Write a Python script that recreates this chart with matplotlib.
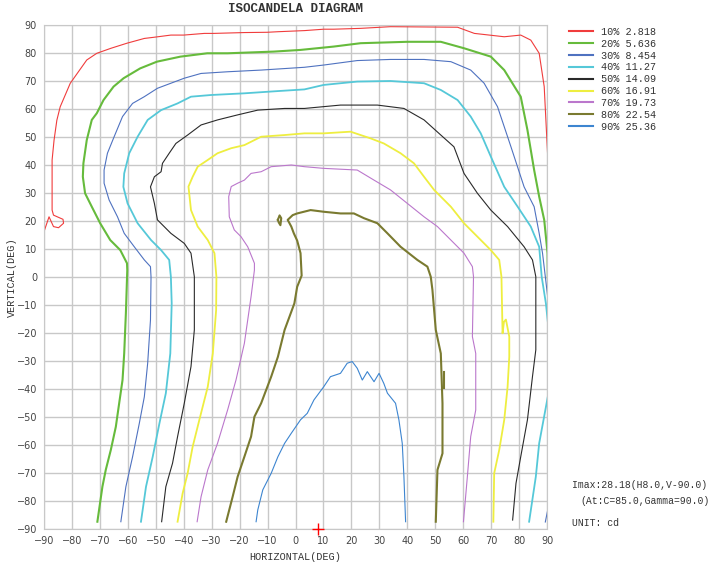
import matplotlib
matplotlib.use('Agg')
import matplotlib.pyplot as plt

# contour levels (percent of Imax, cd)
levels = ['10%', '20%', '30%', '40%', '50%', '60%', '70%', '80%', '90%']
level_cd = ['2.818', '5.636', '8.454', '11.27', '14.09', '16.91', '19.73', '22.54', '25.36']
colors = ['#f03c3c', '#66bb3c', '#4f72c0', '#55c8d8', '#2a2a2a', '#eeee40', '#bb77cc', '#7a7a30', '#3d85d0']
widths = [0.8, 1.5, 0.8, 1.3, 0.8, 1.3, 0.8, 1.5, 0.8]

# 10%
h10 = [-90, -88.2, -86.6, -84.8, -83, -83.2, -84.8, -86.6, -87.1, -87.1, -86.4, -85.4, -84.2, -80.6,
       -74.7, -71.1, -66, -60.3, -54.1, -50.8, -44.6, -40, -32.6, -29.3, -18.3, -10.1, -6.3, 3.2, 10.1,
       13.7, 23.3, 34, 58, 64, 74.7, 80.6, 84.2, 87.2, 89, 90.2, 90.5]
v10 = [16.2, 21.5, 18, 17.6, 19.2, 20.6, 21.3, 22.1, 23.9, 41.8, 48.9, 56, 60.8, 69.2,
       77.5, 79.9, 81.7, 83.5, 85.2, 85.6, 86.4, 86.4, 87, 87, 87.3, 87.4, 87.6, 88, 88.5,
       88.5, 88.8, 89.4, 89.2, 87, 85.8, 86.4, 84.6, 79.9, 68, 44.2, 27]

# 20%
h20 = [-70.9, -69.1, -67.9, -66.1, -64.3, -63.1, -61.9, -61.3, -60.7, -60.2, -60.3, -62.7, -66.3,
       -69.9, -72.9, -75.3, -76.1, -75.9, -74.7, -72.9, -71.1, -68.7, -65.1, -61.5, -55.6, -49.6,
       -41.2, -31.6, -24.3, -7.8, 1.8, 13.7, 23.3, 40, 52, 60.3, 69.9, 74.7, 80.6, 83, 85.4, 87.2,
       89, 90.2, 90.3]
v20 = [-87.4, -74.9, -68.9, -61.8, -53.5, -45.1, -36.8, -27.3, -13, 2.5, 4.9, 9.6, 13.2,
       19.2, 25.1, 29.9, 35.8, 40.6, 48.9, 56.1, 58.5, 63.2, 68, 71, 74.5, 76.9,
       78.7, 79.9, 79.9, 80.5, 81.1, 82.3, 83.5, 84, 84, 81.7, 78.7, 73.9, 64.4, 52.5, 38.2, 28.7,
       20.4, 8.5, -0.5]

# 30%
h30 = [-62.5, -60.7, -58.3, -55.9, -54.1, -52.9, -51.9, -51.7, -51.9, -54.1, -57.7, -61.3, -63.7,
       -66.7, -68.5, -68.5, -67.3, -64.9, -61.9, -58.3, -54.1, -49.4, -44.6, -39.8, -33.8, -24.3,
       -12.3, 3.2, 10.1, 22.1, 34, 46, 55.6, 62.7, 67.5, 72.3, 77.1, 81.8, 85.4, 87.2, 88.4, 90.3]
v30 = [-87.4, -74.9, -64.2, -52.3, -42.8, -30.8, -15.4, 0, 3.7, 6.1, 10.8, 15.6, 21.5,
       27.5, 33.5, 38.2, 44.2, 50.1, 57.3, 62, 64.4, 67.4, 69.2, 71, 72.7, 73.3,
       73.9, 74.9, 75.7, 77.3, 77.7, 77.7, 76.9, 73.9, 69.2, 60.8, 46.5, 32.2, 25.1, 15.6, 8.5, -7.5]
h30b = [90.3, 89.4]
v30b = [-83, -87.5]

# 40%
h40 = [-55.3, -53.5, -51.1, -48.7, -46.4, -44.8, -44.3, -44.6, -45.2, -48.1, -51.7, -56.5, -60.1,
       -61.6, -61.3, -59.5, -56.5, -52.9, -48.1, -42.2, -37.4, -30.2, -18.3, -6.3, 3.2, 10.1, 22.1,
       34, 46, 52, 58, 62.7, 66.3, 69.9, 74.7, 79.5, 84.2, 87.2, 88.1, 89.6, 90.3]
v40 = [-87.4, -74.9, -64.2, -52.3, -41.5, -27.3, -9.4, 0.1, 6.1, 9.6, 13.2, 19.2, 26.3,
       32.2, 37, 44.2, 50.1, 56.1, 59.6, 62, 64.4, 65, 65.6, 66.4, 67, 68.6, 69.8,
       70, 69.2, 66.8, 63.2, 57.3, 51.3, 43, 32.2, 25.1, 18, 10.8, 0.1, -9.4, -16]
h40b = [90.3, 87.2, 86, 83.6]
v40b = [-42.7, -59.4, -71.3, -87.4]

# 50%
h50 = [-47.9, -46.4, -44, -42.2, -39.8, -37.4, -36.2, -36.2, -37.4, -39.8, -44.6, -49.4, -50.5,
       -51.9, -50.5, -48.1, -47.6, -45.2, -42.8, -38.6, -33.8, -27.9, -20.7, -13.5, -3.9, 3.2, 16.1,
       29.3, 38.8, 46, 52, 56.7, 60.3, 65.1, 69.9, 75.9, 81.8, 84.8, 86, 86, 84.8, 83, 80.6, 78.9, 77.7]
v50 = [-87.4, -74.9, -66.5, -57, -45.1, -32, -18.9, 0.1, 8.5, 12, 15.6, 20.4, 26.3,
       32.2, 35.8, 37.6, 40.6, 44.2, 47.7, 50.7, 54.3, 56.1, 57.9, 59.6, 60.2, 60.2, 61.4,
       61.4, 60.2, 56.1, 50.7, 46.5, 37, 29.9, 23.9, 18, 10.8, 6.1, 0.1, -26, -35.6, -51, -64.2, -73.7, -86.8]

# 60%
h60 = [-42.2, -40.4, -38.6, -36.8, -34.4, -31.4, -29.6, -28.4, -28.3, -29, -31.4, -35, -37.4, -38.3,
       -36.8, -35, -31.4, -27.9, -23, -18.3, -12.3, -3.9, 3.2, 10.1, 19.7, 26.9, 31.6, 37.6, 42.4, 46,
       49.6, 55.6, 60.3, 65.1, 69.9, 72.9, 73.7, 74.1, 74.6, 75.3, 76.5, 76.5, 75.9, 74.7, 72.9, 71.1, 70.8]
v60 = [-87.4, -77.3, -70.1, -60.6, -51, -39.2, -27.3, -11.8, 0, 8.5, 13.2, 18, 23.9, 32.3,
       35.8, 39.4, 41.8, 44.2, 46, 47.1, 50.1, 50.7, 51.3, 51.3, 51.9, 49.5, 47.7, 44.2, 40.6, 35.8,
       31.1, 25.1, 19.2, 14.4, 9.6, 6.1, 0.1, -20.1, -16, -15.2, -21.3, -28.5, -39.2, -51, -61.8, -70.1, -87.4]

# 70%
h70 = [-35.2, -33.8, -31.4, -27.9, -24.3, -21.3, -18.3, -15.9, -14.7, -14.7, -17.1, -19.5, -21.9,
       -23.7, -23.9, -23, -20.7, -18.3, -15.9, -12.3, -8.7, -1.5, 3.2, 10.1, 22.1, 28.1, 34, 40, 46,
       50.8, 55.6, 60.3, 63.3, 63.7, 63.3, 64.5, 64.5, 62.7, 61.5, 60.1]
v70 = [-87.4, -78.5, -68.9, -59.4, -47.5, -36.8, -23.7, -7, 2.5, 4.9, 10.8, 14.4, 16.8,
       21.5, 28.7, 32.3, 33.5, 34.6, 37, 37.6, 39.4, 40, 39.4, 38.8, 38.2, 34.6, 31.1, 26.3, 21.5,
       18, 13.2, 8.5, 3.7, 0.1, -21.3, -27.3, -47.5, -57, -71.3, -87.4]

# 80%
h80 = [-24.8, -22.5, -20.7, -18.3, -15.9, -14.7, -12.3, -8.7, -6.3, -3.9, -1.5, -0.4, 0.6, 2.2,
       1.8, 0.6, -0.6, -1.5, -2.8, -1, 0.6, 3, 5.4, 10.1, 16.1, 20.9, 24.5, 29.3, 32.9, 37.6, 43.6,
       47.2, 48.4, 49, 50.2, 52, 52.6, 52.6, 50.8, 50.2]
v80 = [-87.4, -78.5, -71.3, -64.2, -57, -49.9, -45.1, -35.6, -28.5, -18.9, -12.4, -9.4, -3.5, 0.5,
       8.5, 13, 15.6, 18, 20.4, 22.1, 22.7, 23.3, 23.9, 23.3, 22.7, 22.7, 21, 19.2, 15.6, 10.8, 6.1,
       3.7, 0.1, -4.6, -18.9, -27.3, -45.1, -63, -68.9, -87.4]
h80b = [-6.3, -5.7, -5.1, -5.4, -6.0, -6.3]
v80b = [20.4, 22.0, 21.0, 18.5, 19.5, 20.4]
h80c = [53.2, 53.2]
v80c = [-34, -39.7]

# 90%
h90 = [-14.1, -13.5, -11.7, -8.7, -6.3, -3.9, -1.5, 1.8, 4.2, 6.6, 10.1, 12.5, 16.1, 18.5, 20.3,
       22.1, 23.9, 25.7, 28.1, 29.9, 31.6, 32.9, 35.8, 37, 38.2, 38.8, 39.4]
v90 = [-87.4, -83.2, -76, -70.1, -64.2, -59.4, -55.8, -51, -48.7, -43.9, -39.2, -35.6, -34.4, -30.8,
       -30.2, -32.6, -36.8, -33.8, -37.4, -34.4, -38, -41.5, -45.1, -51, -59.4, -71.3, -87.4]

contours = [
    [(h10, v10)],
    [(h20, v20)],
    [(h30, v30), (h30b, v30b)],
    [(h40, v40), (h40b, v40b)],
    [(h50, v50)],
    [(h60, v60)],
    [(h70, v70)],
    [(h80, v80), (h80b, v80b), (h80c, v80c)],
    [(h90, v90)],
]

imax = 28.18
imax_h, imax_v = 8.0, -90.0
at_c, at_gamma = 85.0, 90.0

mono = 'Liberation Mono'
txt_col = '#333333'

fig = plt.figure(figsize=(7.13, 5.67), dpi=100)
ax = fig.add_axes([44 / 713, 1 - 529 / 567, 503 / 713, 504 / 567])

for i, pieces in enumerate(contours):
    for k, (hh, vv) in enumerate(pieces):
        ax.plot(hh, vv, color=colors[i], lw=widths[i],
                label=f'{levels[i]} {level_cd[i]}' if k == 0 else None)

ax.plot(imax_h, imax_v, '+', color='red', ms=9, mew=1.0, clip_on=False, zorder=5)

ax.set_xlim(-90, 90)
ax.set_ylim(-90, 90)
ax.set_xticks(range(-90, 91, 10))
ax.set_yticks(range(-90, 91, 10))
ax.grid(True, color='#c8c8c8', lw=1.0)
ax.set_axisbelow(True)
ax.tick_params(length=0, labelsize=7, labelcolor='#444444', pad=5)
for s in ax.spines.values():
    s.set_color('#c8c8c8')

fig.text(295 / 713, 1 - 9 / 567, 'ISOCANDELA DIAGRAM', ha='center', va='center',
         family=mono, weight='bold', size=9, color=txt_col)
fig.text(295 / 713, 1 - 557 / 567, 'HORIZONTAL(DEG)', ha='center', va='center',
         family=mono, size=7.3, color=txt_col)
fig.text(12 / 713, 1 - 277 / 567, 'VERTICAL(DEG)', ha='center', va='center', rotation=90,
         family=mono, size=7.3, color=txt_col)

leg = ax.legend(loc='upper left', bbox_to_anchor=(569 / 713, 1 - 27 / 567), bbox_transform=fig.transFigure,
                frameon=False, prop={'family': mono, 'size': 7.3}, handlelength=2.4, handletextpad=0.8,
                labelspacing=0.18, borderpad=0, borderaxespad=0, labelcolor=txt_col)
for ln in leg.get_lines():
    ln.set_linewidth(1.5)

fig.text(572 / 713, 1 - 485 / 567, f'Imax:{imax:.2f}(H{imax_h:.1f},V{imax_v:.1f})', ha='left', va='center',
         family=mono, size=7.0, color=txt_col)
fig.text(580 / 713, 1 - 501 / 567, f'(At:C={at_c:.1f},Gamma={at_gamma:.1f})', ha='left', va='center',
         family=mono, size=7.0, color=txt_col)
fig.text(572 / 713, 1 - 523 / 567, 'UNIT: cd', ha='left', va='center',
         family=mono, size=7.0, color=txt_col)

fig.savefig('out.png', dpi=100, facecolor='white')
